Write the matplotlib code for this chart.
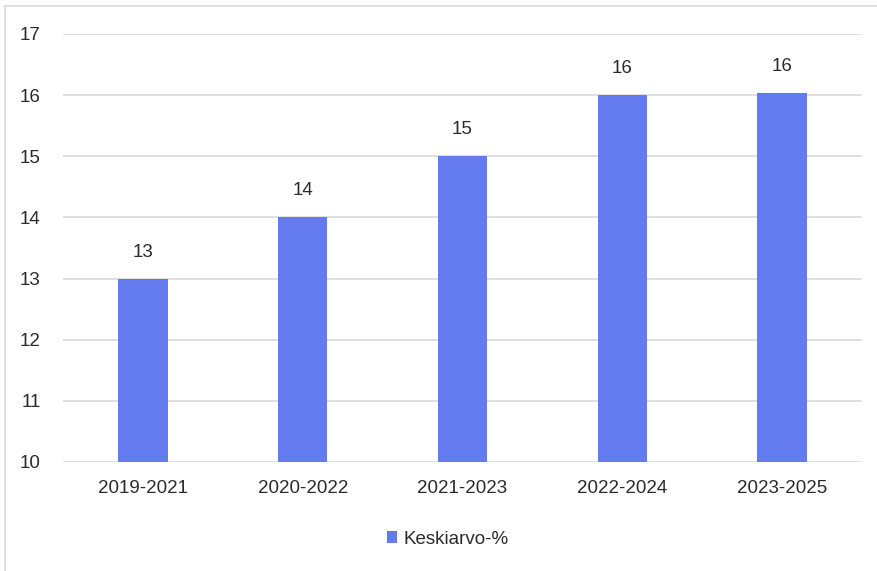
import matplotlib
matplotlib.use("Agg")
import matplotlib.pyplot as plt
from matplotlib.lines import Line2D
from matplotlib.patches import Patch

categories = ["2019-2021", "2020-2022", "2021-2023", "2022-2024", "2023-2025"]
values = [13.0, 14.0, 15.0, 16.0, 16.04]
labels = ["13", "14", "15", "16", "16"]
yticks = [10, 11, 12, 13, 14, 15, 16, 17]
series_name = "Keskiarvo-%"

BAR = "#637BEF"
TXT = "#2b2b2b"
FS = 13.5
plt.rcParams['font.family'] = ['Liberation Sans', 'DejaVu Sans']

fig = plt.figure(figsize=(8.78, 5.71), dpi=100)
ax = fig.add_axes([63/878, 1-462/571, (862-63)/878, (462-34)/571])

x = list(range(len(categories)))
ax.bar(x, values, width=0.31, color=BAR, zorder=3)
ax.set_xlim(-0.5, len(categories)-0.5)
ax.set_ylim(10, 17)
ax.set_yticks(yticks)
ax.set_yticklabels([str(t) for t in yticks])
ax.set_xticks(x)
ax.set_xticklabels(categories)
ax.grid(axis='y', color='#d9d9d9', linewidth=1.2, zorder=0)
for s in ax.spines.values():
    s.set_visible(False)
ax.tick_params(axis='both', length=0, labelsize=FS, labelcolor=TXT)
ax.tick_params(axis='y', pad=16)
ax.tick_params(axis='x', pad=13)

for xi, v, lab in zip(x, values, labels):
    ax.annotate(lab, (xi, v), xytext=(0, 13), textcoords='offset points',
                ha='center', va='bottom', fontsize=FS, color=TXT)

handle = Patch(facecolor=BAR, edgecolor='none')
fig.legend([handle], [series_name], loc='center', bbox_to_anchor=(448/878, 1-539/571),
           frameon=False, fontsize=FS, handlelength=0.55, handleheight=0.55,
           handletextpad=0.35, labelcolor=TXT)

# figure border (top and left)
fig.add_artist(Line2D([5/878, 1], [1-6/571, 1-6/571], transform=fig.transFigure, color='#d9d9d9', lw=1.2))
fig.add_artist(Line2D([5/878, 5/878], [0, 1-6/571], transform=fig.transFigure, color='#d9d9d9', lw=1.2))

fig.savefig("out.png", dpi=100)
